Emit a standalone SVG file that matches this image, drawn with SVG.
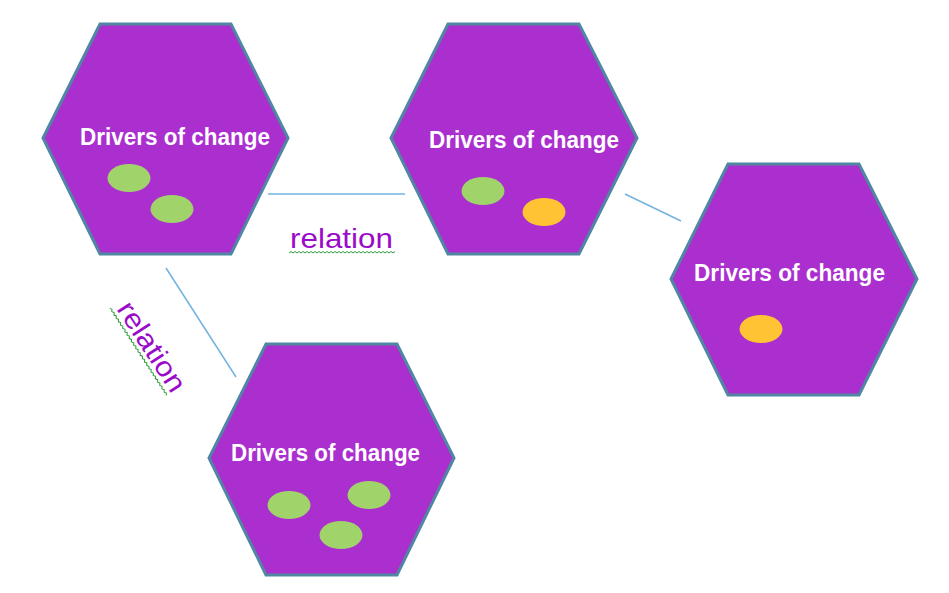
<svg xmlns="http://www.w3.org/2000/svg" width="949" height="593" viewBox="0 0 949 593">
<style>
.hex{fill:#AB2FCF;stroke:#4F87A3;stroke-width:3;stroke-linejoin:miter}
.lbl{font-family:"Liberation Sans",Arial,sans-serif;font-weight:bold;font-size:24px;fill:#FFFFFF}
.green{fill:#A0D46B}
.orange{fill:#FFC334}
.conn{stroke:#74B2DF;stroke-width:1.5;fill:none}
.rel{font-family:"Liberation Sans",Arial,sans-serif;font-size:28px;fill:#9A0BC9}
.wavy{stroke:#2F9A3A;stroke-width:1;fill:none}
</style>
<rect width="949" height="593" fill="#FFFFFF"/>
<g id="connectors">
<line class="conn" x1="268" y1="194" x2="405" y2="194"/>
<line class="conn" x1="625" y1="194" x2="681" y2="221"/>
<line class="conn" x1="166" y1="268" x2="236" y2="377"/>
</g>
<g id="label-relation-1">
<text class="rel" x="290" y="248" textLength="103" lengthAdjust="spacingAndGlyphs">relation</text>
<path class="wavy" d="M289,253 l2,-1.5 l2,1.5 l2,-1.5 l2,1.5 l2,-1.5 l2,1.5 l2,-1.5 l2,1.5 l2,-1.5 l2,1.5 l2,-1.5 l2,1.5 l2,-1.5 l2,1.5 l2,-1.5 l2,1.5 l2,-1.5 l2,1.5 l2,-1.5 l2,1.5 l2,-1.5 l2,1.5 l2,-1.5 l2,1.5 l2,-1.5 l2,1.5 l2,-1.5 l2,1.5 l2,-1.5 l2,1.5 l2,-1.5 l2,1.5 l2,-1.5 l2,1.5 l2,-1.5 l2,1.5 l2,-1.5 l2,1.5 l2,-1.5 l2,1.5 l2,-1.5 l2,1.5 l2,-1.5 l2,1.5 l2,-1.5 l2,1.5 l2,-1.5 l2,1.5 l2,-1.5 l2,1.5 l2,-1.5 l2,1.5 l2,-1.5"/>
</g>
<g id="label-relation-2" transform="translate(116,309) rotate(57)">
<text class="rel" x="0" y="0" textLength="102" lengthAdjust="spacingAndGlyphs">relation</text>
<path class="wavy" d="M-4,5 l2,-1.5 l2,1.5 l2,-1.5 l2,1.5 l2,-1.5 l2,1.5 l2,-1.5 l2,1.5 l2,-1.5 l2,1.5 l2,-1.5 l2,1.5 l2,-1.5 l2,1.5 l2,-1.5 l2,1.5 l2,-1.5 l2,1.5 l2,-1.5 l2,1.5 l2,-1.5 l2,1.5 l2,-1.5 l2,1.5 l2,-1.5 l2,1.5 l2,-1.5 l2,1.5 l2,-1.5 l2,1.5 l2,-1.5 l2,1.5 l2,-1.5 l2,1.5 l2,-1.5 l2,1.5 l2,-1.5 l2,1.5 l2,-1.5 l2,1.5 l2,-1.5 l2,1.5 l2,-1.5 l2,1.5 l2,-1.5 l2,1.5 l2,-1.5 l2,1.5 l2,-1.5 l2,1.5 l2,-1.5 l2,1.5"/>
</g>
<g id="node-1">
<polygon class="hex" points="100,24 231,24 288,138 231,254 100,254 43,138"/>
<text class="lbl" x="80" y="145" textLength="190" lengthAdjust="spacingAndGlyphs">Drivers of change</text>
<ellipse class="green" cx="129" cy="178" rx="21.5" ry="14"/>
<ellipse class="green" cx="172" cy="209" rx="21.5" ry="14"/>
</g>
<g id="node-2">
<polygon class="hex" points="448,24 579,24 637,138 579,254 448,254 391,138"/>
<text class="lbl" x="429" y="148" textLength="190" lengthAdjust="spacingAndGlyphs">Drivers of change</text>
<ellipse class="green" cx="483" cy="191" rx="21.5" ry="14"/>
<ellipse class="orange" cx="544" cy="212" rx="21.5" ry="14"/>
</g>
<g id="node-3">
<polygon class="hex" points="728,164 859,164 917,279 859,395 728,395 671,279"/>
<text class="lbl" x="694" y="281" textLength="191" lengthAdjust="spacingAndGlyphs">Drivers of change</text>
<ellipse class="orange" cx="761" cy="329" rx="21.5" ry="14"/>
</g>
<g id="node-4">
<polygon class="hex" points="266,344 397,344 454,458 397,575 266,575 209,458"/>
<text class="lbl" x="231" y="461" textLength="189" lengthAdjust="spacingAndGlyphs">Drivers of change</text>
<ellipse class="green" cx="289" cy="505" rx="21.5" ry="14"/>
<ellipse class="green" cx="369" cy="495" rx="21.5" ry="14"/>
<ellipse class="green" cx="341" cy="535" rx="21.5" ry="14"/>
</g>
</svg>
